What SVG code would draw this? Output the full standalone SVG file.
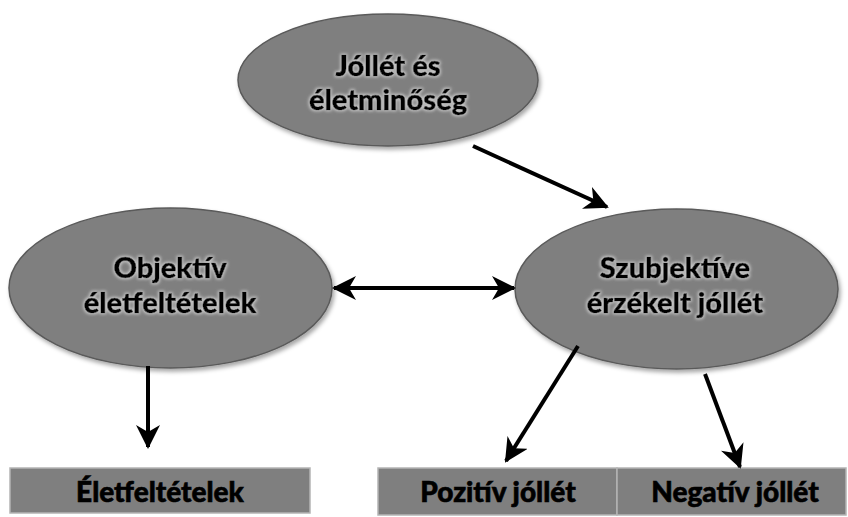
<svg xmlns="http://www.w3.org/2000/svg" width="848" height="517" viewBox="0 0 848 517">
<defs>
<style>
.node ellipse{fill:#7f7f7f;stroke:#5a5a5a;stroke-width:1.5}
.box rect{fill:#7f7f7f;stroke:#b4b4b4;stroke-width:1.5}
text{font-family:Lato,"Open Sans","Liberation Sans",sans-serif;font-weight:900;fill:#000;stroke:#000;stroke-width:0.6;text-anchor:middle}
.lbl{font-size:29px;filter:url(#glow)}
.blbl{font-size:28px}
.conn line{stroke:#000;stroke-width:4}
</style>
<filter id="glow" x="-20%" y="-40%" width="140%" height="180%">
<feMorphology in="SourceAlpha" operator="dilate" radius="1" result="d"/>
<feGaussianBlur in="d" stdDeviation="1.5" result="b"/>
<feFlood flood-color="#d8d8d8" flood-opacity="0.8"/>
<feComposite in2="b" operator="in" result="g"/>
<feMerge><feMergeNode in="g"/><feMergeNode in="SourceGraphic"/></feMerge>
</filter>
<filter id="sh" x="-10%" y="-10%" width="125%" height="130%">
<feGaussianBlur in="SourceAlpha" stdDeviation="2"/>
<feOffset dx="2" dy="3" result="o"/>
<feFlood flood-color="#000" flood-opacity="0.35"/>
<feComposite in2="o" operator="in" result="s"/>
<feMerge><feMergeNode in="s"/><feMergeNode in="SourceGraphic"/></feMerge>
</filter>
<marker id="ah" viewBox="0 0 12 12" refX="11" refY="6" markerWidth="6" markerHeight="6" orient="auto-start-reverse" markerUnits="strokeWidth">
<path d="M0,0 L12,6 L0,12 L3.5,6 Z" fill="#000"/>
</marker>
</defs>
<g id="n-jollet" class="node">
<ellipse cx="388" cy="80" rx="150" ry="66" filter="url(#sh)"/>
<text class="lbl" x="388" y="76">Jóllét és</text>
<text class="lbl" x="388" y="110">életminőség</text>
</g>
<g id="n-objektiv" class="node">
<ellipse cx="170.5" cy="288" rx="161.5" ry="80" filter="url(#sh)"/>
<text class="lbl" x="170" y="278">Objektív</text>
<text class="lbl" x="170" y="313">életfeltételek</text>
</g>
<g id="n-szubjektiv" class="node">
<ellipse cx="676.5" cy="289" rx="161.5" ry="80" filter="url(#sh)"/>
<text class="lbl" x="675" y="278">Szubjektíve</text>
<text class="lbl" x="675" y="313">érzékelt jóllét</text>
</g>
<g id="n-eletfeltetelek" class="box">
<rect x="10" y="468" width="300" height="45"/>
<text class="blbl" x="160" y="502">Életfeltételek</text>
</g>
<g id="n-pozitiv" class="box">
<rect x="378" y="468" width="239" height="47"/>
<text class="blbl" x="498" y="502">Pozitív jóllét</text>
</g>
<g id="n-negativ" class="box">
<rect x="617" y="468" width="229" height="47"/>
<text class="blbl" x="735" y="502">Negatív jóllét</text>
</g>
<g id="connectors" class="conn">
<line x1="473" y1="146" x2="607" y2="207" marker-end="url(#ah)"/>
<line x1="334" y1="288" x2="514" y2="288" marker-start="url(#ah)" marker-end="url(#ah)"/>
<line x1="148" y1="366" x2="148" y2="447" marker-end="url(#ah)"/>
<line x1="578" y1="346" x2="506" y2="461" marker-end="url(#ah)"/>
<line x1="705" y1="374" x2="740" y2="467" marker-end="url(#ah)"/>
</g>
</svg>
